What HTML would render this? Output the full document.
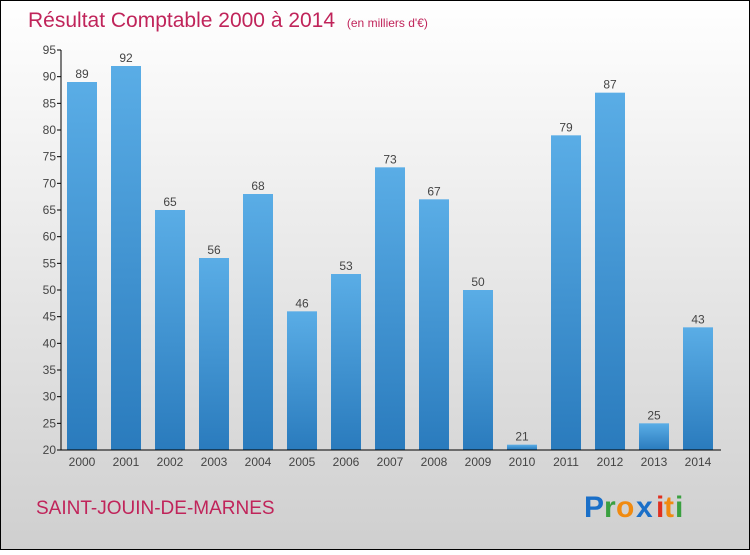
<!DOCTYPE html>
<html><head><meta charset="utf-8"><style>
body{margin:0;width:750px;height:550px;overflow:hidden;font-family:"Liberation Sans",sans-serif}
</style></head><body>
<svg width="750" height="550">
<defs>
<linearGradient id="bg" x1="0" y1="0" x2="0" y2="1"><stop offset="0" stop-color="#ffffff"/><stop offset="1" stop-color="#cfcfcf"/></linearGradient>
<linearGradient id="bar" x1="0" y1="0" x2="0" y2="1"><stop offset="0" stop-color="#5aade6"/><stop offset="1" stop-color="#2a7bbd"/></linearGradient>
</defs>
<rect x="0.5" y="0.5" width="749" height="549" fill="url(#bg)" stroke="#000"/>
<text x="28" y="27" font-size="21" fill="#c0245a">Résultat Comptable 2000 à 2014 <tspan font-size="12" dx="6">(en milliers d'€)</tspan></text>
<g id="plot"></g>
<text x="36" y="514" font-size="19" fill="#c0245a">SAINT-JOUIN-DE-MARNES</text>
<g font-size="30" font-weight="bold">
<text x="584" y="517" fill="#1a6fc8">P</text><text x="604" y="517" fill="#3aa040">r</text><text x="616" y="517" fill="#f08a10">o</text><text x="636" y="517" fill="#1a6fc8">x</text><text x="656" y="517" fill="#e03020">i</text><text x="664" y="517" fill="#f08a10">t</text><text x="675" y="517" fill="#3aa040">i</text>
</g>
</svg>
<script>
const years=["2000","2001","2002","2003","2004","2005","2006","2007","2008","2009","2010","2011","2012","2013","2014"];
const values=[89,92,65,56,68,46,53,73,67,50,21,79,87,25,43];
const ticks=[20,25,30,35,40,45,50,55,60,65,70,75,80,85,90,95];
const ns="http://www.w3.org/2000/svg",g=document.getElementById('plot');
const y=v=>450-(v-20)*400/75, x=i=>82+i*44;
function el(t,a,txt){const e=document.createElementNS(ns,t);for(const k in a)e.setAttribute(k,a[k]);if(txt!=null)e.textContent=txt;g.appendChild(e);return e;}
ticks.forEach(t=>{
 const l=el('line',{x1:57,x2:61,y1:y(t),y2:y(t),stroke:'#000'});
 
 const tx=el('text',{x:56,y:y(t)+4,'text-anchor':'end','font-size':12,fill:'#444'},t);
 
});
values.forEach((v,i)=>{
 const r=el('rect',{x:x(i)-15,y:y(v),width:30,height:450-y(v),fill:'url(#bar)'});
 
 const t=el('text',{x:x(i),y:y(v)-4,'text-anchor':'middle','font-size':12,fill:'#444'},v);
 
 const xl=el('text',{x:x(i),y:466,'text-anchor':'middle','font-size':12,fill:'#444'},years[i]);
 
});
const ya=el('line',{x1:61,x2:61,y1:50,y2:450,stroke:'#000'});

const xa=el('line',{x1:61,x2:721,y1:450,y2:450,stroke:'#000'});

</script>
</body></html>
